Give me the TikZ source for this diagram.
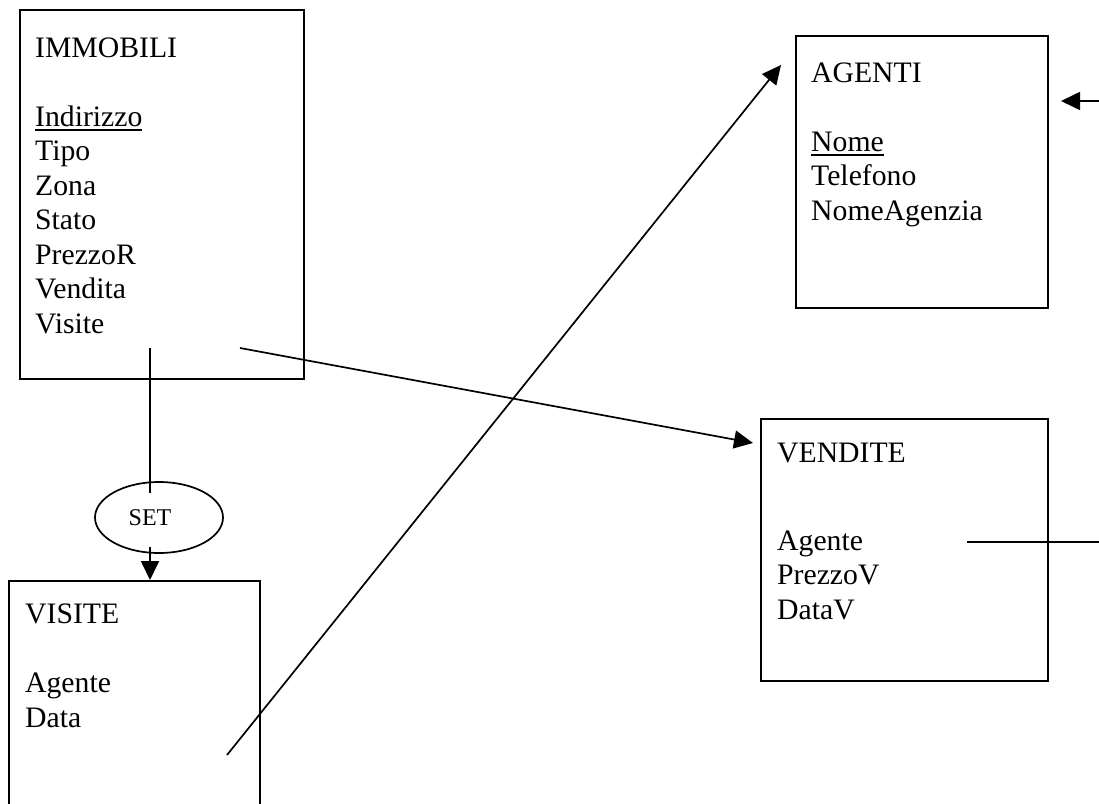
\documentclass[tikz,border=0pt]{standalone}
\usepackage{fontspec}
\setmainfont{Liberation Serif}
\usetikzlibrary{arrows.meta,shapes.geometric}
\newcommand\myul[1]{\setbox0\hbox{#1}\rlap{\vrule width\wd0 height -2.5pt depth 4.5pt}\box0}
\tikzset{
 box/.style={draw, line width=1.7pt, anchor=north west, inner sep=0pt},
 txt/.style={anchor=base west, inner sep=0pt, font=\fontsize{29.7}{34.5}\selectfont},
 conn/.style={line width=1.7pt},
 arr/.style={conn, -{Triangle[length=19pt,width=18pt]}},
}
\begin{document}
\begin{tikzpicture}[x=1pt,y=-1pt]
\useasboundingbox (0,0) rectangle (1099,803);
\clip (0,0) rectangle (1099,803);
% boxes
\node[box, minimum width=284pt, minimum height=369pt] (immobili) at (19,9) {};
\node[box, minimum width=252pt, minimum height=272pt] (agenti) at (795,35) {};
\node[box, minimum width=287pt, minimum height=262pt] (vendite) at (760,418) {};
\node[box, minimum width=251pt, minimum height=240pt] (visite) at (8,580) {};
% texts
\node[txt] (immtxt) at (35,57) {\vtop{\hbox{IMMOBILI}\hbox{}\hbox{\myul{Indirizzo}}\hbox{Tipo}\hbox{Zona}\hbox{Stato}\hbox{PrezzoR}\hbox{Vendita}\hbox{Visite}}};
\node[txt] (agtxt) at (811,82) {\vtop{\hbox{AGENTI}\hbox{}\hbox{\myul{Nome}}\hbox{Telefono}\hbox{NomeAgenzia}}};
\node[txt] (vendtxt) at (777,462) {\vtop{\hbox{VENDITE}\vskip 19pt\hbox{}\hbox{Agente}\hbox{PrezzoV}\hbox{DataV}}};
\node[txt] (vistxt) at (25,623.5) {\vtop{\hbox{VISITE}\hbox{}\hbox{Agente}\hbox{Data}}};
% SET ellipse
\node[draw, ellipse, line width=1.7pt, minimum width=128pt, minimum height=71pt, inner sep=0pt, font=\fontsize{24}{28}\selectfont] (set) at (159,517.5) {\hspace*{-18pt}SET};
% connector end points
\coordinate (immA) at (150,348);
\coordinate (setT) at (150,493);
\coordinate (setB) at (150,547);
\coordinate (visIn) at (150,580);
\coordinate (immB) at (240,348);
\coordinate (vendIn) at (753,443);
\coordinate (visA) at (227,755);
\coordinate (agIn) at (781,65);
\coordinate (edgeA) at (1099,101);
\coordinate (agR) at (1061,101);
\coordinate (vendA) at (967,542);
\coordinate (edgeB) at (1099,542);
% connectors
\draw[conn] (immA) -- (setT);
\draw[arr] (setB) -- (visIn);
\draw[arr] (immB) -- (vendIn);
\draw[arr] (visA) -- (agIn);
\draw[arr] (edgeA) -- (agR);
\draw[conn] (vendA) -- (edgeB);
\end{tikzpicture}
\end{document}
